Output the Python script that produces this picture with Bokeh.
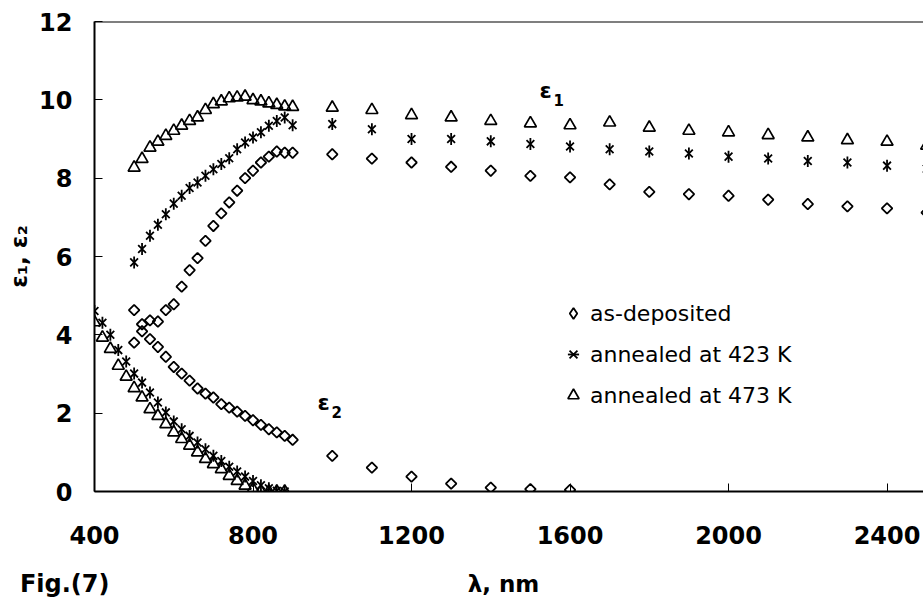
from math import pi

from bokeh.embed import file_html
from bokeh.layouts import column
from bokeh.models import ColumnDataSource, FixedTicker, Label, Legend, LegendItem, Span
from bokeh.plotting import figure
from bokeh.resources import INLINE

# Wavelength grids (nm)
lam_eps1 = [500, 520, 540, 560, 580, 600, 620, 640, 660, 680, 700, 720, 740, 760, 780,
            800, 820, 840, 860, 880, 900,
            1000, 1100, 1200, 1300, 1400, 1500, 1600, 1700, 1800, 1900, 2000, 2100,
            2200, 2300, 2400, 2500]
lam_eps2_dep = [500, 520, 540, 560, 580, 600, 620, 640, 660, 680, 700, 720, 740, 760, 780,
                800, 820, 840, 860, 880, 900,
                1000, 1100, 1200, 1300, 1400, 1500, 1600]
lam_eps2_ann = [400, 420, 440, 460, 480, 500, 520, 540, 560, 580, 600, 620, 640, 660, 680,
                700, 720, 740, 760, 780, 800, 820, 840, 860, 880]

# Real part of the dielectric constant, epsilon_1
eps1_dep = [3.80, 4.27, 4.37, 4.34, 4.63, 4.78, 5.23, 5.65, 5.96, 6.40, 6.78, 7.10, 7.38,
            7.68, 8.00, 8.19, 8.40, 8.55, 8.68, 8.65, 8.65,
            8.61, 8.50, 8.40, 8.29, 8.19, 8.06, 8.02, 7.84, 7.65, 7.59, 7.55, 7.45,
            7.34, 7.28, 7.23, 7.12]
eps1_423 = [5.85, 6.19, 6.53, 6.81, 7.08, 7.35, 7.55, 7.75, 7.89, 8.06, 8.23, 8.36, 8.51,
            8.74, 8.91, 9.04, 9.17, 9.34, 9.46, 9.55, 9.35,
            9.38, 9.25, 9.00, 9.00, 8.94, 8.87, 8.81, 8.74, 8.68, 8.63, 8.55, 8.50,
            8.44, 8.40, 8.32, 8.24]
eps1_473 = [8.27, 8.49, 8.78, 8.93, 9.08, 9.21, 9.34, 9.46, 9.55, 9.74, 9.89, 9.96, 10.04,
            10.06, 10.08, 9.99, 9.96, 9.91, 9.87, 9.83, 9.82,
            9.80, 9.74, 9.61, 9.55, 9.46, 9.40, 9.35, 9.42, 9.29, 9.21, 9.17, 9.10,
            9.04, 8.97, 8.93, 8.83]

# Imaginary part, epsilon_2
eps2_dep = [4.63, 4.09, 3.89, 3.69, 3.44, 3.18, 3.01, 2.83, 2.63, 2.50, 2.40, 2.23, 2.14,
            2.04, 1.93, 1.82, 1.70, 1.59, 1.51, 1.42, 1.32,
            0.91, 0.61, 0.38, 0.20, 0.10, 0.06, 0.04]
eps2_423 = [4.61, 4.31, 4.00, 3.61, 3.32, 3.01, 2.78, 2.53, 2.27, 2.02, 1.79, 1.59, 1.42,
            1.25, 1.08, 0.91, 0.78, 0.63, 0.51, 0.38, 0.27, 0.16, 0.08, 0.02, 0.00]
eps2_473 = [4.32, 3.93, 3.64, 3.21, 2.93, 2.64, 2.40, 2.10, 1.93, 1.72, 1.51, 1.34, 1.17,
            1.00, 0.83, 0.70, 0.57, 0.40, 0.27, 0.15, 0.06, 0.00, 0.00, 0.00, 0.00]

series_names = ["as-deposited", "annealed at 423 K", "annealed at 473 K"]
x_ticks = [400, 800, 1200, 1600, 2000, 2400]
y_ticks = [0, 2, 4, 6, 8, 10, 12]

W = 923
H_MAIN, H_FOOT = 560, 47
FL, FB = 94, 491          # frame left / bottom in canvas pixels
FONT = "DejaVu Sans"

p = figure(width=W, height=H_MAIN, output_backend="svg", toolbar_location=None,
           x_range=(400, 2492), y_range=(0, 12),
           min_border_left=FL, min_border_right=0, min_border_top=21,
           min_border_bottom=H_MAIN - FB)
p.background_fill_color = "white"
p.border_fill_color = "white"
p.outline_line_color = None
p.xgrid.visible = False
p.ygrid.visible = False

for ax in (p.xaxis[0], p.yaxis[0]):
    ax.axis_line_width = 2
    ax.axis_line_color = "black"
    ax.major_tick_in = 8
    ax.major_tick_out = 0
    ax.major_tick_line_width = 1
    ax.minor_tick_line_color = None
    ax.major_label_text_font = FONT
    ax.major_label_text_font_style = "bold"
    ax.major_label_text_font_size = "24px"
    ax.major_label_text_color = "black"
    ax.axis_label_text_font = FONT
    ax.axis_label_text_font_style = "bold"
    ax.axis_label_text_font_size = "23px"
    ax.axis_label_text_color = "black"

p.xaxis.ticker = FixedTicker(ticks=x_ticks)
p.yaxis.ticker = FixedTicker(ticks=y_ticks)
p.xaxis.major_label_standoff = 34
p.yaxis.major_label_standoff = 22
p.yaxis.axis_label = "ε₁, ε₂"
p.yaxis.axis_label_standoff = 4

# top border of the frame
p.add_layout(Span(location=12, dimension="width", line_color="black", line_width=2))

src_dep = ColumnDataSource(dict(x=lam_eps1 + lam_eps2_dep, y=eps1_dep + eps2_dep))
src_423 = ColumnDataSource(dict(x=lam_eps1 + lam_eps2_ann, y=eps1_423 + eps2_423))
src_473 = ColumnDataSource(dict(x=lam_eps1 + lam_eps2_ann, y=eps1_473 + eps2_473))

r_dep = p.scatter("x", "y", source=src_dep, marker="square", angle=pi / 4, size=7.5,
                  fill_color=None, line_color="black", line_width=1.8)
r_423x = p.scatter("x", "y", source=src_423, marker="x", size=11,
                   line_color="black", line_width=1.8)
r_423v = p.scatter("x", "y", source=src_423, marker="dash", angle=pi / 2, size=12,
                   line_color="black", line_width=1.8)
r_473 = p.scatter("x", "y", source=src_473, marker="triangle", size=12,
                  fill_color=None, line_color="black", line_width=1.7)

# diamond key for the legend (the legend does not rotate the square marker);
# its single point has no position, so only the legend shows it
nan = float("nan")
key_src = ColumnDataSource(dict(x=[nan], y=[nan]))
r_dep_key = p.scatter("x", "y", source=key_src, marker="diamond", fill_color=None,
                      line_color="black", line_width=1.8)

legend = Legend(items=[LegendItem(label=series_names[0], renderers=[r_dep_key]),
                       LegendItem(label=series_names[1], renderers=[r_423x, r_423v]),
                       LegendItem(label=series_names[2], renderers=[r_473])],
                location=(465, 82), orientation="vertical",
                glyph_width=28, glyph_height=28, label_height=28, spacing=13,
                label_standoff=3, padding=0, margin=0,
                border_line_color=None, background_fill_alpha=0,
                label_text_font=FONT, label_text_font_size="22px",
                label_text_color="black")
p.add_layout(legend)


def text(fig, s, x, y, size, bottom, align="left"):
    # x, y in canvas pixels from the figure's top-left corner; both figures
    # share the same frame left edge FL inside the column layout
    fig.add_layout(Label(x=x - FL, y=bottom - y, x_units="screen", y_units="screen",
                         text=s, text_font=FONT, text_font_style="bold",
                         text_font_size=size, text_color="black",
                         text_align=align, text_baseline="middle"))


# curve annotations with subscripts
text(p, "ε", 539, 90, "22px", FB)
text(p, "1", 553, 99, "15px", FB)
text(p, "ε", 317, 402, "22px", FB)
text(p, "2", 331, 411, "15px", FB)

# strip under the chart: horizontal axis title in the frame, figure number as the
# single label of a bare left axis
foot = figure(width=W, height=H_FOOT, output_backend="svg", toolbar_location=None,
              x_range=(0, W), y_range=(0, H_FOOT), x_axis_type=None,
              min_border=0, min_border_left=FL)
foot.outline_line_color = None
foot.background_fill_color = "white"
foot.border_fill_color = "white"
foot.xgrid.visible = False
foot.ygrid.visible = False
fa = foot.yaxis[0]
fa.ticker = FixedTicker(ticks=[24])
fa.major_label_overrides = {24: "Fig.(7)"}
fa.axis_line_color = None
fa.major_tick_line_color = None
fa.minor_tick_line_color = None
fa.major_tick_in = 0
fa.major_tick_out = 0
fa.major_label_standoff = -15
fa.major_label_text_font = FONT
fa.major_label_text_font_style = "bold"
fa.major_label_text_font_size = "24px"
fa.major_label_text_color = "black"
text(foot, "λ, nm", 503, 23, "23px", H_FOOT, align="center")

layout = column(p, foot, spacing=0)
open("out.html", "w").write(file_html(layout, INLINE))
